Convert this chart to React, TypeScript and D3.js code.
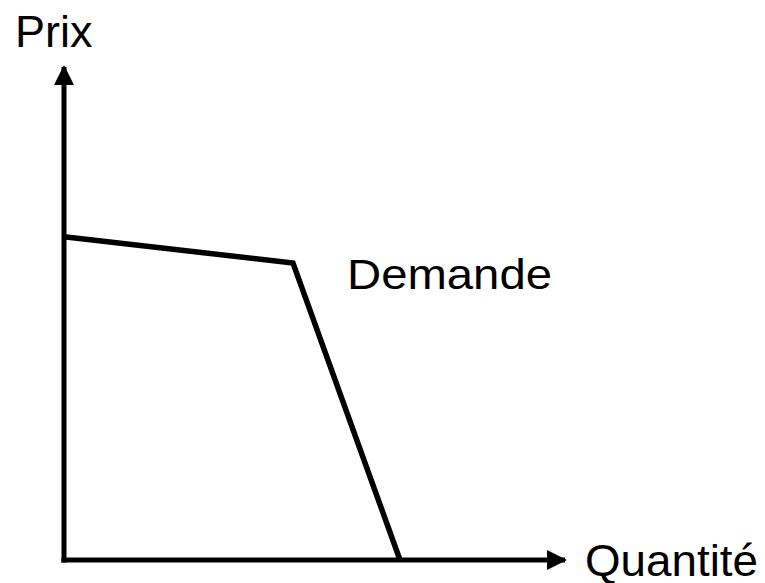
import React from "react";
import * as d3 from "d3";

// demand curve (arbitrary units 0..10)
const demandQuantity = [0, 4.58, 6.72];
const demandPrice = [6.53, 6.0, 0];

const axisLabels = { y: "Prix", x: "Quantité" };
const curveLabel = "Demande";

const App = () => {
  const tWidth = 765;
  const tHeight = 583;

  const x = d3.scaleLinear().domain([0, 10]).range([64, 564]);
  const y = d3.scaleLinear().domain([0, 10]).range([560, 65]);

  const points: [number, number][] = demandQuantity.map((q, i) => [q, demandPrice[i]]);
  const line = d3
    .line<[number, number]>()
    .x((d) => x(d[0]))
    .y((d) => y(d[1]));

  const font = "'Liberation Sans', Arial, sans-serif";

  return (
    <svg
      width={tWidth}
      height={tHeight}
      style={{ position: "absolute", left: 0, top: 0, background: "#fff" }}
    >
      <defs>
        <marker
          id="arrow"
          viewBox="0 0 20 20"
          refX="18"
          refY="10"
          markerWidth="20"
          markerHeight="20"
          markerUnits="userSpaceOnUse"
          orient="auto"
        >
          <path d="M0,0 L20,10 L0,20 Z" fill="#000" />
        </marker>
      </defs>

      {/* axes */}
      <line
        x1={x(0)}
        y1={y(0) + 2.5}
        x2={x(0)}
        y2={y(10) + 2}
        stroke="#000"
        strokeWidth={5}
        markerEnd="url(#arrow)"
      />
      <line
        x1={x(0) - 2.5}
        y1={y(0)}
        x2={x(10) + 1}
        y2={y(0)}
        stroke="#000"
        strokeWidth={5}
        markerEnd="url(#arrow)"
      />

      {/* demand */}
      <path
        d={line(points) || ""}
        fill="none"
        stroke="#000"
        strokeWidth={5.5}
        strokeLinejoin="miter"
      />

      <text x={15} y={47} fontFamily={font} fontSize={45} fill="#000">
        {axisLabels.y}
      </text>
      <text
        x={585}
        y={576}
        fontFamily={font}
        fontSize={45}
        textLength={173}
        lengthAdjust="spacingAndGlyphs"
        fill="#000"
      >
        {axisLabels.x}
      </text>
      <text
        x={347}
        y={289}
        fontFamily={font}
        fontSize={42}
        textLength={205}
        lengthAdjust="spacingAndGlyphs"
        fill="#000"
      >
        {curveLabel}
      </text>
    </svg>
  );
};

export default App;
